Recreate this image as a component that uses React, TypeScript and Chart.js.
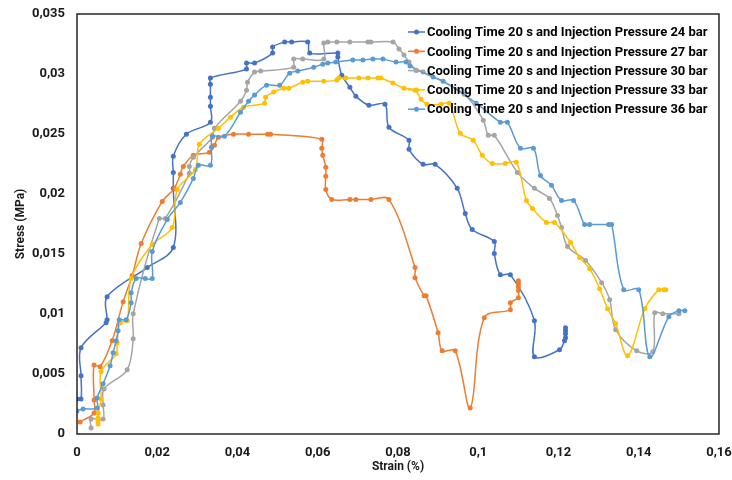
import React, { useEffect, useRef } from 'react';
import { Chart, registerables } from 'chart.js';

Chart.register(...registerables);

const seriesNames = [
  'Cooling Time 20 s and Injection Pressure 24 bar',
  'Cooling Time 20 s and Injection Pressure 27 bar',
  'Cooling Time 20 s and Injection Pressure 30 bar',
  'Cooling Time 20 s and Injection Pressure 33 bar',
  'Cooling Time 20 s and Injection Pressure 36 bar',
];
const seriesColors = ['#4472C4', '#ED7D31', '#A5A5A5', '#FFC000', '#5B9BD5'];

const xTickValues = [0, 0.02, 0.04, 0.06, 0.08, 0.1, 0.12, 0.14, 0.16];
const xTickLabels = ['0', '0,02', '0,04', '0,06', '0,08', '0,1', '0,12', '0,14', '0,16'];
const yTickValues = [0, 0.005, 0.01, 0.015, 0.02, 0.025, 0.03, 0.035];
const yTickLabels = ['0', '0,005', '0,01', '0,015', '0,02', '0,025', '0,03', '0,035'];

// 24 bar
const strain24 = [0, 0.001, 0.001, 0.001, 0.00725, 0.0075, 0.0075, 0.0175, 0.024, 0.024, 0.024, 0.024, 0.02725, 0.03325, 0.03325, 0.03325, 0.03325, 0.03325, 0.04225, 0.04225, 0.04425, 0.04875, 0.04875, 0.05175, 0.0535, 0.0575, 0.058, 0.065, 0.065, 0.066, 0.068, 0.0695, 0.07275, 0.07675, 0.07775, 0.08275, 0.08275, 0.08625, 0.08925, 0.09475, 0.09675, 0.0985, 0.104, 0.104, 0.1055, 0.108, 0.114, 0.114, 0.12025, 0.1215, 0.12175, 0.12175, 0.12175, 0.12175];
const stress24 = [0.00292, 0.00292, 0.00485, 0.00718, 0.00927, 0.00952, 0.01144, 0.01387, 0.01554, 0.02047, 0.0218, 0.02314, 0.02498, 0.02598, 0.02732, 0.02807, 0.02915, 0.02966, 0.03041, 0.03091, 0.03091, 0.03174, 0.03224, 0.03266, 0.03266, 0.03266, 0.03174, 0.03174, 0.03141, 0.0299, 0.0289, 0.02815, 0.0274, 0.02748, 0.02556, 0.02448, 0.02372, 0.02247, 0.02247, 0.02047, 0.01838, 0.01704, 0.01604, 0.01504, 0.01328, 0.01328, 0.00944, 0.00643, 0.00702, 0.00777, 0.00802, 0.00835, 0.0086, 0.00885];

// 27 bar
const strain27 = [0.00075, 0.00425, 0.00425, 0.00425, 0.00575, 0.00875, 0.0115, 0.01375, 0.016, 0.02125, 0.02425, 0.02575, 0.0265, 0.029, 0.033, 0.03425, 0.03525, 0.039, 0.04275, 0.0475, 0.04825, 0.061, 0.061, 0.06125, 0.062, 0.062, 0.062, 0.0635, 0.068, 0.0695, 0.07325, 0.07775, 0.08425, 0.08425, 0.0865, 0.087, 0.09, 0.091, 0.09425, 0.098, 0.1015, 0.108, 0.108, 0.11, 0.11, 0.11, 0.11, 0.11];
const stress27 = [0.001, 0.00175, 0.00284, 0.00576, 0.0056, 0.00777, 0.01103, 0.0132, 0.01587, 0.01938, 0.02047, 0.02164, 0.0223, 0.02322, 0.02347, 0.02406, 0.02473, 0.02498, 0.02498, 0.02498, 0.02498, 0.02456, 0.02381, 0.02322, 0.02222, 0.02147, 0.02038, 0.01955, 0.01955, 0.01955, 0.01955, 0.01955, 0.01387, 0.01303, 0.01153, 0.01153, 0.00844, 0.00693, 0.00693, 0.00217, 0.00969, 0.01036, 0.01094, 0.01136, 0.01195, 0.01228, 0.01253, 0.01278];

// 30 bar
const strain30 = [0.0035, 0.0035, 0.0065, 0.0065, 0.00675, 0.0125, 0.014, 0.014, 0.0205, 0.022, 0.028, 0.028, 0.029, 0.03375, 0.03425, 0.04075, 0.04225, 0.0425, 0.04425, 0.04575, 0.054, 0.054, 0.05625, 0.0615, 0.0615, 0.0625, 0.06475, 0.068, 0.0725, 0.07325, 0.07875, 0.08025, 0.0815, 0.08275, 0.0845, 0.08625, 0.0965, 0.10125, 0.1025, 0.104, 0.10975, 0.114, 0.11775, 0.11975, 0.12075, 0.12225, 0.12675, 0.13075, 0.13275, 0.13425, 0.1395, 0.1435, 0.144, 0.146, 0.15];
const stress30 = [0.0005, 0.00125, 0.00125, 0.00242, 0.00376, 0.00535, 0.00794, 0.01002, 0.01796, 0.01796, 0.02172, 0.0223, 0.02306, 0.02473, 0.02548, 0.02773, 0.02865, 0.02932, 0.03016, 0.03024, 0.03057, 0.03124, 0.03124, 0.03124, 0.03258, 0.03266, 0.03266, 0.03266, 0.03266, 0.03266, 0.03266, 0.03208, 0.03158, 0.03099, 0.03032, 0.03016, 0.02832, 0.02615, 0.02489, 0.02489, 0.0218, 0.02047, 0.01963, 0.01821, 0.01721, 0.01562, 0.01445, 0.01261, 0.01119, 0.00869, 0.00693, 0.00685, 0.01011, 0.01002, 0.01002];

// 33 bar
const strain33 = [0.00525, 0.00525, 0.00525, 0.00525, 0.006, 0.006, 0.00975, 0.01, 0.01075, 0.0125, 0.0135, 0.01875, 0.02375, 0.025, 0.0295, 0.0305, 0.03525, 0.03825, 0.0415, 0.04675, 0.047, 0.049, 0.0515, 0.05275, 0.05625, 0.0575, 0.0615, 0.06475, 0.06525, 0.067, 0.07025, 0.0725, 0.075, 0.07575, 0.07875, 0.0815, 0.08425, 0.08575, 0.08725, 0.09075, 0.09275, 0.0955, 0.09875, 0.101, 0.1035, 0.10675, 0.1095, 0.112, 0.1135, 0.117, 0.119, 0.123, 0.12525, 0.12775, 0.13025, 0.13225, 0.13425, 0.13725, 0.1415, 0.145, 0.14625, 0.14675];
const stress33 = [0.00084, 0.00109, 0.00134, 0.00175, 0.00292, 0.00518, 0.00668, 0.0076, 0.00927, 0.00944, 0.01295, 0.01579, 0.01721, 0.02038, 0.02205, 0.02414, 0.02548, 0.0264, 0.02723, 0.02757, 0.02807, 0.02849, 0.02882, 0.02882, 0.02932, 0.0294, 0.0294, 0.02949, 0.02966, 0.02966, 0.02966, 0.02966, 0.02966, 0.02966, 0.02924, 0.02882, 0.02865, 0.0279, 0.02748, 0.02748, 0.02757, 0.02506, 0.02448, 0.02322, 0.02255, 0.02255, 0.02264, 0.01946, 0.0188, 0.01763, 0.01763, 0.01596, 0.0147, 0.01378, 0.01211, 0.01044, 0.00919, 0.00652, 0.01044, 0.01203, 0.01203, 0.01203];

// 36 bar
const strain36 = [0, 0.0015, 0.005, 0.005, 0.0065, 0.00825, 0.009, 0.00975, 0.01025, 0.0105, 0.01225, 0.0135, 0.0135, 0.01475, 0.017, 0.01875, 0.01875, 0.0225, 0.02575, 0.029, 0.03025, 0.03325, 0.0335, 0.03375, 0.03675, 0.04075, 0.04275, 0.04425, 0.04725, 0.0505, 0.053, 0.055, 0.059, 0.06125, 0.0625, 0.0645, 0.06875, 0.07125, 0.07375, 0.07625, 0.0795, 0.082, 0.083, 0.08875, 0.09125, 0.0995, 0.1055, 0.10725, 0.1105, 0.11375, 0.1155, 0.11825, 0.12075, 0.12375, 0.1265, 0.12775, 0.1325, 0.13325, 0.13625, 0.14, 0.14275, 0.1475, 0.15, 0.1515];
const stress36 = [0.00192, 0.00209, 0.00217, 0.00301, 0.00418, 0.00568, 0.00677, 0.00777, 0.0086, 0.00952, 0.00952, 0.01094, 0.01178, 0.01295, 0.01295, 0.01295, 0.0152, 0.01788, 0.0193, 0.0213, 0.02239, 0.02239, 0.02389, 0.02481, 0.02481, 0.02681, 0.02773, 0.02824, 0.02907, 0.02907, 0.03007, 0.03024, 0.03057, 0.03082, 0.03091, 0.03099, 0.03116, 0.03116, 0.03124, 0.03124, 0.03099, 0.03099, 0.03066, 0.02974, 0.0294, 0.02757, 0.02598, 0.02598, 0.02381, 0.02381, 0.02155, 0.02072, 0.01946, 0.01946, 0.01746, 0.01746, 0.01746, 0.01746, 0.01203, 0.01203, 0.00643, 0.00977, 0.01027, 0.01027];

const strainSeries = [strain24, strain27, strain30, strain33, strain36];
const stressSeries = [stress24, stress27, stress30, stress33, stress36];

const FONT = 'Roboto, "Open Sans", sans-serif';

const frameAndLegend = {
  id: 'frameAndLegend',
  afterDatasetsDraw(chart: any) {
    const { ctx, chartArea } = chart;
    ctx.save();
    ctx.strokeStyle = '#262626';
    ctx.lineWidth = 1.5;
    ctx.strokeRect(chartArea.left, chartArea.top, chartArea.right - chartArea.left, chartArea.bottom - chartArea.top);

    const x0 = chartArea.right - 311;
    const y0 = chartArea.top + 18;
    ctx.font = `bold 13px ${FONT}`;
    ctx.textBaseline = 'middle';
    ctx.textAlign = 'left';
    chart.data.datasets.forEach((ds: any, i: number) => {
      const y = y0 + i * 19.3;
      ctx.strokeStyle = ds.borderColor;
      ctx.lineWidth = 1.5;
      ctx.beginPath();
      ctx.moveTo(x0, y);
      ctx.lineTo(x0 + 17, y);
      ctx.stroke();
      ctx.fillStyle = ds.borderColor;
      ctx.beginPath();
      ctx.arc(x0 + 8.5, y, 2.5, 0, Math.PI * 2);
      ctx.fill();
      ctx.fillStyle = '#000';
      ctx.fillText(ds.label, x0 + 19, y + 1);
    });
    ctx.restore();
  },
};

function zeroPadding(scale: any) {
  scale.paddingTop = 0;
  scale.paddingBottom = 0;
  scale.paddingLeft = 0;
  scale.paddingRight = 0;
}

export default function App() {
  const ref = useRef<HTMLCanvasElement>(null);
  useEffect(() => {
    document.body.style.margin = '0';
    const canvas = ref.current!;
    const datasets = seriesNames.map((name, i) => ({
      label: name,
      data: strainSeries[i].map((x, j) => ({ x, y: stressSeries[i][j] })),
      borderColor: seriesColors[i],
      backgroundColor: seriesColors[i],
      borderWidth: 1.5,
      pointRadius: 2.5,
      pointBorderWidth: 0,
      pointHoverRadius: 2.5,
      showLine: true,
      tension: 0.35,
      order: seriesNames.length - i,
    }));
    const chart = new Chart(canvas, {
      type: 'scatter',
      data: { datasets },
      plugins: [frameAndLegend],
      options: {
        responsive: false,
        animation: false,
        devicePixelRatio: 1,
        layout: { padding: { left: 0, right: 13, top: 14, bottom: 0 } },
        plugins: { legend: { display: false }, tooltip: { enabled: false } },
        scales: {
          x: {
            type: 'linear',
            min: 0,
            max: 0.16,
            grid: { display: false, drawTicks: false },
            border: { display: false },
            afterBuildTicks: (scale: any) => {
              scale.ticks = xTickValues.map((v) => ({ value: v }));
            },
            afterFit: (scale: any) => {
              scale.height = 46;
              zeroPadding(scale);
            },
            ticks: {
              padding: 11,
              maxRotation: 0,
              autoSkip: false,
              color: '#1a1a1a',
              font: { family: FONT, size: 13, weight: 'bold' },
              callback: (_v: any, i: number) => xTickLabels[i],
            },
            title: {
              display: true,
              text: 'Strain (%)',
              color: '#1a1a1a',
              font: { family: FONT, size: 12, weight: 'bold' },
              padding: { top: 0, bottom: 6 },
            },
          },
          y: {
            type: 'linear',
            min: 0,
            max: 0.035,
            grid: { display: false, drawTicks: false },
            border: { display: false },
            afterBuildTicks: (scale: any) => {
              scale.ticks = yTickValues.map((v) => ({ value: v }));
            },
            afterFit: (scale: any) => {
              scale.width = 77;
              zeroPadding(scale);
            },
            ticks: {
              padding: 12,
              autoSkip: false,
              color: '#1a1a1a',
              font: { family: FONT, size: 13, weight: 'bold' },
              callback: (_v: any, i: number) => yTickLabels[i],
            },
            title: {
              display: true,
              text: 'Stress (MPa)',
              color: '#1a1a1a',
              font: { family: FONT, size: 12, weight: 'bold' },
              padding: { top: 14, bottom: 0 },
            },
          },
        },
      },
    });
    return () => chart.destroy();
  }, []);
  return (
    <div style={{ width: 732, height: 480, background: '#fff' }}>
      <canvas ref={ref} width={732} height={480} />
    </div>
  );
}
